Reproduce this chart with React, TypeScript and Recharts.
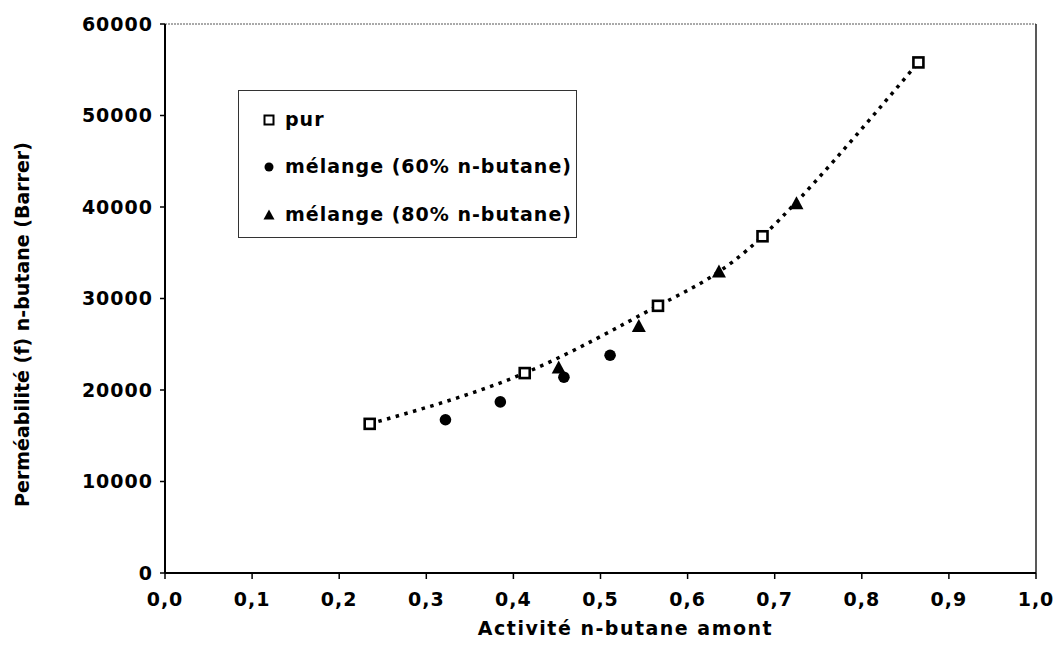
import { ComposedChart, Scatter, Line, XAxis, YAxis, Legend, ReferenceLine } from 'recharts'

// pure n-butane feed
const pur = [
  { x: 0.235, y: 16300 },
  { x: 0.413, y: 21850 },
  { x: 0.566, y: 29200 },
  { x: 0.686, y: 36800 },
  { x: 0.865, y: 55800 },
]

// mixture, 60% n-butane
const melange60 = [
  { x: 0.322, y: 16750 },
  { x: 0.385, y: 18700 },
  { x: 0.458, y: 21400 },
  { x: 0.511, y: 23800 },
]

// mixture, 80% n-butane
const melange80 = [
  { x: 0.452, y: 22400 },
  { x: 0.544, y: 26950 },
  { x: 0.636, y: 32900 },
  { x: 0.725, y: 40350 },
]

const xTicks = [0, 0.1, 0.2, 0.3, 0.4, 0.5, 0.6, 0.7, 0.8, 0.9, 1.0]
const yTicks = [0, 10000, 20000, 30000, 40000, 50000, 60000]

const legendItems = [
  { label: 'pur', shape: 'square' },
  { label: 'mélange (60% n-butane)', shape: 'circle' },
  { label: 'mélange (80% n-butane)', shape: 'triangle' },
]

const FONT = '"DejaVu Sans", sans-serif'
const textStyle = { fontFamily: FONT, fontWeight: 700, fontSize: 19, fill: '#000', letterSpacing: 1 }

const Square = (props: any) => {
  const { cx, cy } = props
  return <rect x={cx - 5} y={cy - 5} width={10} height={10} fill="#fff" stroke="#000" strokeWidth={2.6} />
}

const Dot = (props: any) => {
  const { cx, cy } = props
  return <circle cx={cx} cy={cy} r={5.8} fill="#000" />
}

const Triangle = (props: any) => {
  const { cx, cy } = props
  return <path d={`M${cx},${cy - 7.5} L${cx + 7},${cy + 5.5} L${cx - 7},${cy + 5.5} Z`} fill="#000" />
}

const LegendIcon = ({ shape }: { shape: string }) => (
  <svg width={14} height={14} style={{ display: 'block' }}>
    {shape === 'square' && <rect x={2.5} y={2.5} width={9} height={9} fill="#fff" stroke="#000" strokeWidth={2} />}
    {shape === 'circle' && <circle cx={7} cy={7} r={4.5} fill="#000" />}
    {shape === 'triangle' && <path d="M7,1.5 L12.5,11.5 L1.5,11.5 Z" fill="#000" />}
  </svg>
)

const LegendBox = () => (
  <div
    style={{
      width: 339,
      height: 148,
      border: '1px solid #333',
      background: '#fff',
      boxSizing: 'border-box',
      paddingTop: 5,
      paddingLeft: 23,
    }}
  >
    {legendItems.map((it) => (
      <div key={it.label} style={{ display: 'flex', alignItems: 'center', height: 47.5 }}>
        <LegendIcon shape={it.shape} />
        <span
          style={{
            fontFamily: FONT,
            fontWeight: 700,
            fontSize: 19,
            letterSpacing: 1,
            marginLeft: 9,
            color: '#000',
            lineHeight: '20px',
            marginTop: -2,
          }}
        >
          {it.label}
        </span>
      </div>
    ))}
  </div>
)

const fmtX = (v: number) => v.toFixed(1).replace('.', ',')

export default function App() {
  return (
    <div style={{ position: 'fixed', left: 0, top: 0, background: '#fff' }}>
      <ComposedChart width={1056} height={651} margin={{ top: 24, right: 20, bottom: 28, left: 65 }}>
        <XAxis
          type="number"
          dataKey="x"
          domain={[0, 1]}
          ticks={xTicks}
          tickFormatter={fmtX}
          tickSize={6}
          tickMargin={14}
          tick={textStyle}
          axisLine={{ stroke: '#000', strokeWidth: 2 }}
          tickLine={{ stroke: '#000', strokeWidth: 1.5 }}
          height={50}
          label={(p: any) => {
            const vb = p.viewBox
            const cx = vb.x + vb.width / 2 + 25
            return (
              <text x={cx} y={635} textAnchor="middle" style={{ ...textStyle, letterSpacing: 1.5 }}>
                Activité n-butane amont
              </text>
            )
          }}
        />
        <YAxis
          type="number"
          dataKey="y"
          domain={[0, 60000]}
          ticks={yTicks}
          tickSize={5}
          tickMargin={7}
          tick={textStyle}
          axisLine={{ stroke: '#000', strokeWidth: 2 }}
          tickLine={{ stroke: '#000', strokeWidth: 1.5 }}
          width={100}
          label={(p: any) => {
            const vb = p.viewBox
            const cy = vb.y + vb.height / 2 + 26
            return (
              <text
                x={22}
                y={cy}
                transform={`rotate(-90, 22, ${cy})`}
                textAnchor="middle"
                dominantBaseline="central"
                style={{ ...textStyle, letterSpacing: 0 }}
              >
                Perméabilité (f) n-butane (Barrer)
              </text>
            )
          }}
        />
        <ReferenceLine y={60000} stroke="#555" strokeWidth={1} strokeDasharray="2 1" />
        <ReferenceLine x={1} stroke="#222" strokeWidth={1.5} />
        <Line
          data={pur}
          dataKey="y"
          type="natural"
          stroke="#000"
          strokeWidth={3.5}
          strokeDasharray="3.5 5.5"
          dot={false}
          activeDot={false}
          legendType="none"
          isAnimationActive={false}
        />
        <Scatter data={melange60} name="mélange (60% n-butane)" shape={Dot} isAnimationActive={false} />
        <Scatter data={melange80} name="mélange (80% n-butane)" shape={Triangle} isAnimationActive={false} />
        <Scatter data={pur} name="pur" shape={Square} isAnimationActive={false} />
        <Legend
          layout="vertical"
          align="center"
          verticalAlign="middle"
          content={() => <LegendBox />}
          wrapperStyle={{ left: 238, top: 90, width: 339 }}
        />
      </ComposedChart>
    </div>
  )
}
